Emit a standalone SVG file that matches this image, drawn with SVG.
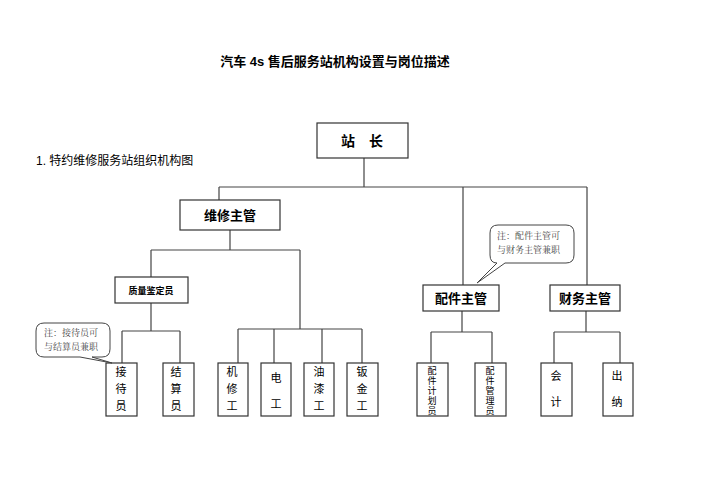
<svg xmlns="http://www.w3.org/2000/svg" width="707" height="500" viewBox="0 0 707 500">
<style>
.b{fill:#fff;stroke:#333;stroke-width:1.2}
.l{stroke:#444;stroke-width:1.2;fill:none}
.t{font-family:"Liberation Sans","Noto Sans CJK SC",sans-serif;fill:#000;text-anchor:middle}
.c{fill:#fff;stroke:#444;stroke-width:1}
.n{font-family:"Noto Serif CJK SC","Noto Sans CJK SC",serif;font-size:9px;fill:#444}
</style>
<rect width="707" height="500" fill="#fff"/>
<text class="t" x="335" y="66" font-size="13" font-weight="bold">汽车 4s 售后服务站机构设置与岗位描述</text>
<text x="36" y="165" font-size="12" font-family="Liberation Sans,Noto Sans CJK SC,sans-serif">1. 特约维修服务站组织机构图</text>
<g id="connectors">
<path class="l" d="M364 158V187M219 187H587M219 187V200M463 187V285M587 187V285"/>
<path class="l" d="M230 230V250M151 250H300M151 250V277M300 250V329M151 303V331M122 331H180M122 331V363M180 331V363"/>
<path class="l" d="M238 329H362M238 329V363M274 329V363M322 329V363M362 329V363"/>
<path class="l" d="M462 311V332M431 332H492M431 332V363M492 332V363"/>
<path class="l" d="M586 311V332M554 332H620M554 332V363M620 332V363"/>
</g>
<g id="zhanzhang"><rect class="b" x="317" y="123" width="91" height="35"/><text class="t" x="362" y="146" font-size="14" font-weight="bold">站　长</text></g>
<g id="weixiu"><rect class="b" x="180" y="200" width="100" height="30"/><text class="t" x="230" y="220" font-size="13" font-weight="bold">维修主管</text></g>
<g id="peijian"><rect class="b" x="423" y="285" width="76" height="26"/><text class="t" x="461" y="303" font-size="13" font-weight="bold">配件主管</text></g>
<g id="caiwu"><rect class="b" x="550" y="285" width="70" height="26"/><text class="t" x="585" y="303" font-size="13" font-weight="bold">财务主管</text></g>
<g id="zhiliang"><rect class="b" x="115" y="277" width="73" height="26"/><text class="t" x="151" y="294" font-size="9" font-weight="bold">质量鉴定员</text></g>
<g id="jiedai"><rect class="b" x="106" y="363" width="31" height="53"/><text class="t" x="121" y="376" font-size="11">接</text><text class="t" x="121" y="393" font-size="11">待</text><text class="t" x="121" y="410" font-size="11">员</text></g>
<g id="jiesuan"><rect class="b" x="163" y="363" width="31" height="53"/><text class="t" x="176" y="376" font-size="11">结</text><text class="t" x="176" y="393" font-size="11">算</text><text class="t" x="176" y="410" font-size="11">员</text></g>
<g id="jixiu"><rect class="b" x="218" y="363" width="30" height="53"/><text class="t" x="232" y="376" font-size="11">机</text><text class="t" x="232" y="393" font-size="11">修</text><text class="t" x="232" y="410" font-size="11">工</text></g>
<g id="dian"><rect class="b" x="261" y="363" width="30" height="53"/><text class="t" x="276" y="382" font-size="11">电</text><text class="t" x="276" y="408" font-size="11">工</text></g>
<g id="youqi"><rect class="b" x="304" y="363" width="30" height="53"/><text class="t" x="319" y="376" font-size="11">油</text><text class="t" x="319" y="393" font-size="11">漆</text><text class="t" x="319" y="410" font-size="11">工</text></g>
<g id="banjin"><rect class="b" x="347" y="363" width="31" height="53"/><text class="t" x="362" y="376" font-size="11">钣</text><text class="t" x="362" y="393" font-size="11">金</text><text class="t" x="362" y="410" font-size="11">工</text></g>
<g id="jihua"><rect class="b" x="417" y="363" width="31" height="53"/><text class="t" x="432" y="374" font-size="9">配</text><text class="t" x="432" y="384" font-size="9">件</text><text class="t" x="432" y="394" font-size="9">计</text><text class="t" x="432" y="404" font-size="9">划</text><text class="t" x="432" y="414" font-size="9">员</text></g>
<g id="guanli"><rect class="b" x="475" y="363" width="31" height="53"/><text class="t" x="490" y="374" font-size="9">配</text><text class="t" x="490" y="384" font-size="9">件</text><text class="t" x="490" y="394" font-size="9">管</text><text class="t" x="490" y="404" font-size="9">理</text><text class="t" x="490" y="414" font-size="9">员</text></g>
<g id="kuaiji"><rect class="b" x="541" y="363" width="31" height="53"/><text class="t" x="556" y="380" font-size="11">会</text><text class="t" x="556" y="406" font-size="11">计</text></g>
<g id="chuna"><rect class="b" x="603" y="363" width="30" height="53"/><text class="t" x="617" y="380" font-size="11">出</text><text class="t" x="617" y="406" font-size="11">纳</text></g>
<g id="note1"><path class="c" d="M44 323H102Q110 323 110 331V349Q110 357 102 357H92L112 363L80 357H44Q36 357 36 349V331Q36 323 44 323Z"/><text class="n" x="44" y="336">注：接待员可</text><text class="n" x="44" y="350">与结算员兼职</text></g>
<g id="note2"><path class="c" d="M498 225H566Q574 225 574 233V255Q574 263 566 263H505L477 283L497 263Q490 263 490 255V233Q490 225 498 225Z"/><text class="n" x="497" y="239">注：配件主管可</text><text class="n" x="497" y="253">与财务主管兼职</text></g>
</svg>
